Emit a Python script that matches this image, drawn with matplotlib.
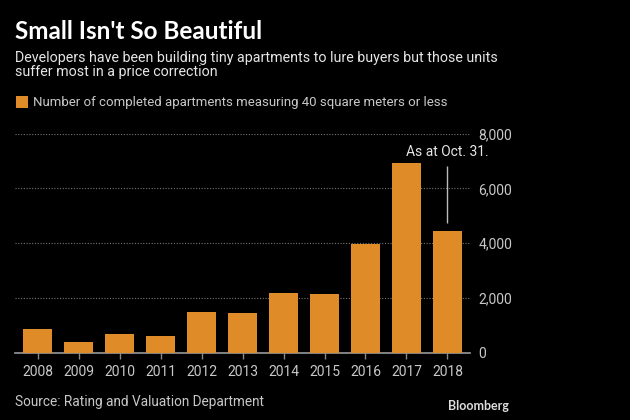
from matplotlib import pyplot as plt
from matplotlib import font_manager
import numpy as np

# Data
years = ["2008", "2009", "2010", "2011", "2012", "2013", "2014", "2015", "2016", "2017", "2018"]
completed = [865, 380, 693, 620, 1497, 1438, 2179, 2143, 3957, 6924, 4442]
y_ticks = [0, 2000, 4000, 6000, 8000]

title = "Small Isn't So Beautiful"
subtitle = "Developers have been building tiny apartments to lure buyers but those units\nsuffer most in a price correction"
legend_label = "Number of completed apartments measuring 40 square meters or less"
note = "As at Oct. 31."
note_range = (4730, 6800)
source = "Source: Rating and Valuation Department"

BG = "black"
ORANGE = "#df8b27"
GREY = "#c8c8c8"

names = {f.name for f in font_manager.fontManager.ttflist}
narrow = "Liberation Sans Narrow" if "Liberation Sans Narrow" in names else "Roboto"
plt.rcParams["font.family"] = [narrow, "DejaVu Sans"]

fig = plt.figure(figsize=(6.3, 4.2), dpi=100, facecolor=BG)
ax = fig.add_axes([0.024, 0.160, 0.722, 0.522], facecolor=BG)

x = np.arange(len(years))
ax.bar(x, completed, width=0.7, color=ORANGE, zorder=3)

# Formatting
ax.set_xlim(-0.55, len(years) - 0.45)
ax.set_ylim(0, 8000)
ax.set_xticks(x)
ax.set_xticklabels(years)
ax.set_yticks(y_ticks)
ax.set_yticklabels([f"{v:,}" for v in y_ticks])
ax.yaxis.tick_right()
ax.tick_params(axis="y", length=0, pad=6, labelsize=10, labelcolor=GREY)
ax.tick_params(axis="x", length=4, width=1, color="#888888", pad=5, labelsize=10, labelcolor=GREY)
for side in ["top", "left", "right"]:
    ax.spines[side].set_visible(False)
ax.spines["bottom"].set_color("#999999")
ax.spines["bottom"].set_linewidth(1.2)
ax.grid(axis="y", color="#777777", linestyle=(0, (1, 1.5)), linewidth=0.8, zorder=0)
for tick in ax.yaxis.get_majorticklabels():
    tick.set_horizontalalignment("left")

# Note on the last bar
ax.vlines(x[-1], note_range[0], note_range[1], color="#bbbbbb", linewidth=1, zorder=4)
ax.text(x[-1], 7330, note, ha="center", va="center", color="#e6e6e6", fontsize=10)

# Titles and legend
fig.text(0.024, 0.925, title, color="white", fontsize=17.5, fontweight="bold",
         family=["Lato", "DejaVu Sans"], va="center")
fig.text(0.024, 0.845, subtitle, color="#e6e6e6", fontsize=10.3, va="center", linespacing=1.05)
fig.patches.append(plt.Rectangle((0.026, 0.743), 0.018, 0.028, transform=fig.transFigure,
                                 facecolor=ORANGE, edgecolor="none"))
fig.text(0.053, 0.757, legend_label, color=GREY, fontsize=9.5, va="center")

fig.text(0.024, 0.043, source, color=GREY, fontsize=9.8, va="center")
fig.text(0.808, 0.033, "Bloomberg", color="#dddddd", fontsize=9, fontweight="bold",
         family=["Lato", "DejaVu Sans"], ha="right", va="center")

fig.savefig("out.png", dpi=100, facecolor=BG)
